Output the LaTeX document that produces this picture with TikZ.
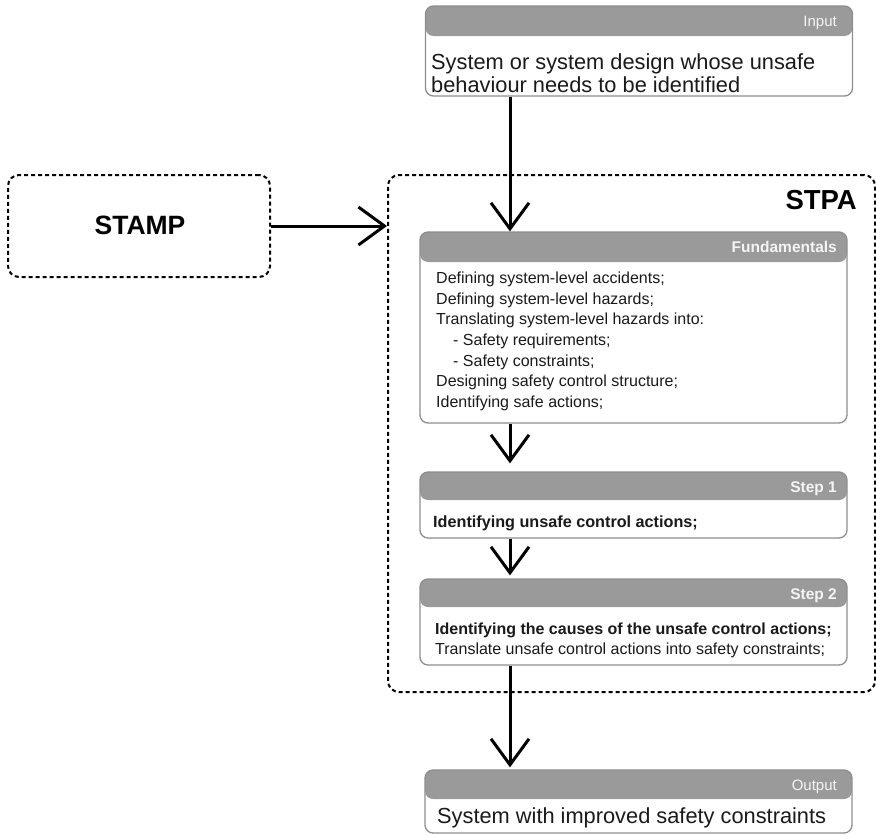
\documentclass[tikz,border=0pt]{standalone}
\usepackage{fontspec}
\setmainfont{Liberation Sans}
\usetikzlibrary{arrows.meta,calc}

\definecolor{headgray}{HTML}{9A9A9A}
\definecolor{framegray}{HTML}{8E8E8E}
\definecolor{headtext}{HTML}{F4F4F4}
\definecolor{bodytext}{HTML}{1A1A1A}

\newlength{\headh}

\begin{document}
\begin{tikzpicture}[x=1pt,y=-1pt,
  headheight/.code={\setlength{\headh}{#1}},
  flowbox/.style={draw=framegray, line width=1.3pt, rounded corners=8pt,
    fill=white, inner sep=0pt, minimum width=427pt,
    path picture={\fill[headgray] (path picture bounding box.north west)
      rectangle ([yshift=-\headh]path picture bounding box.north east);}},
  groupbox/.style={draw=black, line width=2pt, dash pattern=on 4pt off 3pt,
    rounded corners=11pt, inner sep=0pt},
  headlabel/.style={text=headtext, inner sep=0pt, anchor=base east,
    font=\fontsize{15}{18}\selectfont},
  headbold/.style={headlabel, font=\fontsize{15.5}{18}\selectfont\bfseries},
  bigtext/.style={text=bodytext, inner sep=0pt, anchor=north west, align=left,
    font=\fontsize{21.8}{23}\selectfont},
  listtext/.style={text=bodytext, inner sep=0pt, anchor=north west, align=left,
    font=\fontsize{16}{20.6}\selectfont},
  flow/.style={draw=black, line width=3pt,
    -{Straight Barb[length=26pt,width=38pt]}},
]
\useasboundingbox (0,0) rectangle (876,835);

% dashed group frames
\node[groupbox, minimum width=262pt, minimum height=102pt] (stamp) at (139,226) {};
\node[font=\fontsize{26.5}{30}\selectfont\bfseries] (stamplbl) at (140,225) {STAMP};
\node[groupbox, minimum width=487pt, minimum height=517pt] (stpa) at (631.5,433.5) {};
\node[font=\fontsize{27.5}{30}\selectfont\bfseries, anchor=east, inner sep=0pt] (stpalbl) at (857,200) {STPA};

% process boxes
\node[flowbox, headheight=30pt, minimum height=90pt] (input) at (639,51) {};
\node[headlabel] (inputhd) at (837,26.5) {Input};
\node[bigtext] (inputtxt) at (431,54) {System or system design whose unsafe\\behaviour needs to be identified};

\node[flowbox, headheight=30pt, minimum height=191pt] (fund) at (633.5,327.5) {};
\node[headbold] (fundhd) at (837,252.5) {Fundamentals};
\node[listtext] (fundtxt) at (436,272) {Defining system-level accidents;\\
Defining system-level hazards;\\
Translating system-level hazards into:\\
\hspace*{17pt}- Safety requirements;\\
\hspace*{17pt}- Safety constraints;\\
Designing safety control structure;\\
Identifying safe actions;};

\node[flowbox, headheight=28pt, minimum height=66pt] (step1) at (633.5,505) {};
\node[headbold] (step1hd) at (837,492) {Step 1};
\node[listtext, font=\fontsize{16.2}{20.4}\selectfont\bfseries] (step1txt) at (433,516) {Identifying unsafe control actions;};

\node[flowbox, headheight=28pt, minimum height=86pt] (step2) at (633.5,622) {};
\node[headbold] (step2hd) at (837,599) {Step 2};
\node[listtext, font=\fontsize{16}{20}\selectfont] (step2txt) at (435,623) {\textbf{Identifying the causes of the unsafe control actions;}\\
Translate unsafe control actions into safety constraints;};

\node[flowbox, headheight=29pt, minimum height=63pt] (output) at (638.5,801.5) {};
\node[headlabel] (outputhd) at (837,790) {Output};
\node[bigtext] (outputtxt) at (437,807) {System with improved safety constraints};

% connectors
\coordinate (spine) at (510,0);
\draw[flow] (input.south -| spine) -- (fund.north -| spine);
\draw[flow, shorten >=8pt] (fund.south -| spine) -- (step1.north -| spine);
\draw[flow, shorten >=3pt] (step1.south -| spine) -- (step2.north -| spine);
\draw[flow, shorten >=2pt] (step2.south -| spine) -- (output.north -| spine);
\draw[flow] (stamp.east) -- (stamp.east -| stpa.west);
\end{tikzpicture}
\end{document}
